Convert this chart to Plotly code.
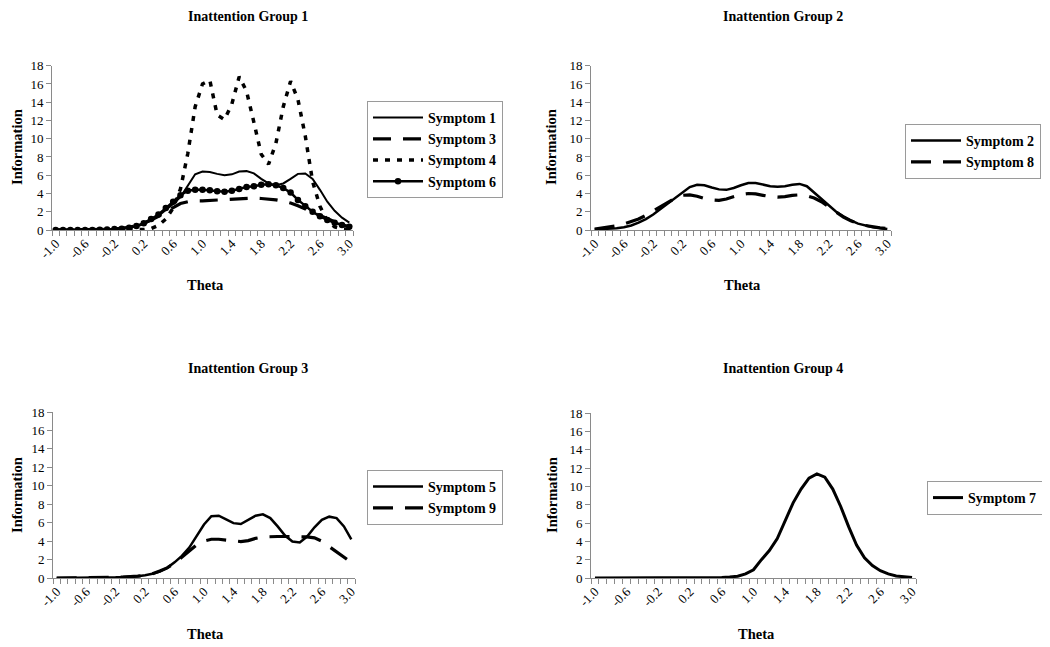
import plotly.graph_objects as go

# The page body has an 8px margin, so the figure is drawn 8px smaller and
# all reference pixel positions are shifted by that offset.
OFF = 8
W, H = 1050 - OFF, 647 - OFF

theta = [-1.0, -0.9, -0.8, -0.7, -0.6, -0.5, -0.4, -0.3, -0.2, -0.1,
         0.0, 0.1, 0.2, 0.3, 0.4, 0.5, 0.6, 0.7, 0.8, 0.9,
         1.0, 1.1, 1.2, 1.3, 1.4, 1.5, 1.6, 1.7, 1.8, 1.9,
         2.0, 2.1, 2.2, 2.3, 2.4, 2.5, 2.6, 2.7, 2.8, 2.9, 3.0]

tick_labels = ["-1.0", "-0.6", "-0.2", "0.2", "0.6", "1.0", "1.4", "1.8", "2.2", "2.6", "3.0"]
tick_positions = [-1.0, -0.6, -0.2, 0.2, 0.6, 1.0, 1.4, 1.8, 2.2, 2.6, 3.0]
y_ticks = [0, 2, 4, 6, 8, 10, 12, 14, 16, 18]

# Inattention Group 1
symptom1 = [0.0, 0.0, 0.0, 0.01, 0.01, 0.02, 0.03, 0.05, 0.08, 0.13,
            0.22, 0.38, 0.65, 1.05, 1.55, 2.15, 2.85, 3.6, 4.9, 6.1,
            6.4, 6.35, 6.15, 6.0, 6.1, 6.4, 6.45, 6.2, 5.6, 5.1,
            4.9, 5.1, 5.6, 6.15, 6.2, 5.6, 4.4, 3.1, 2.1, 1.35, 0.8]
symptom3 = [0.0, 0.0, 0.01, 0.01, 0.02, 0.03, 0.05, 0.08, 0.12, 0.2,
            0.3, 0.5, 0.75, 1.1, 1.5, 2.0, 2.5, 2.9, 3.1, 3.2,
            3.2, 3.25, 3.3, 3.35, 3.4, 3.45, 3.5, 3.5, 3.45, 3.4,
            3.3, 3.15, 2.95, 2.65, 2.3, 1.95, 1.55, 1.2, 0.85, 0.55, 0.35]
symptom4 = [0.0, 0.0, 0.0, 0.0, 0.0, 0.0, 0.0, 0.0, 0.0, 0.0,
            0.0, 0.01, 0.05, 0.15, 0.5, 1.2, 2.4, 4.5, 8.4, 13.5,
            16.0, 16.4, 12.6, 12.1, 13.8, 16.8, 15.2, 11.8, 8.3, 7.2,
            9.5, 13.5, 16.3, 14.3, 10.3, 5.3, 2.6, 1.0, 0.35, 0.12, 0.04]
symptom6 = [0.0, 0.0, 0.0, 0.0, 0.0, 0.01, 0.02, 0.05, 0.1, 0.15,
            0.25, 0.45, 0.75, 1.2, 1.7, 2.4, 3.1, 3.8, 4.3, 4.4,
            4.4, 4.35, 4.25, 4.2, 4.3, 4.5, 4.7, 4.8, 4.95, 5.0,
            4.9, 4.6, 4.1, 3.3, 2.6, 2.0, 1.5, 1.1, 0.8, 0.55, 0.35]

# Inattention Group 2
symptom2 = [0.05, 0.08, 0.12, 0.2, 0.3, 0.5, 0.8, 1.2, 1.7, 2.3,
            2.9, 3.6, 4.2, 4.7, 4.95, 4.9, 4.65, 4.45, 4.4, 4.6,
            4.9, 5.15, 5.15, 4.95, 4.8, 4.75, 4.8, 4.95, 5.05, 4.8,
            4.1, 3.3, 2.6, 2.0, 1.5, 1.05, 0.7, 0.5, 0.3, 0.2, 0.1]
symptom8 = [0.1, 0.2, 0.3, 0.45, 0.65, 0.9, 1.2, 1.6, 2.1, 2.6,
            3.1, 3.5, 3.8, 3.85, 3.7, 3.45, 3.3, 3.25, 3.4, 3.65,
            3.9, 4.0, 3.95, 3.8, 3.65, 3.6, 3.65, 3.8, 3.85, 3.75,
            3.5, 3.1, 2.5, 1.9, 1.4, 1.0, 0.7, 0.5, 0.35, 0.25, 0.15]

# Inattention Group 3
symptom5 = [0.0, 0.0, 0.0, 0.0, 0.01, 0.02, 0.03, 0.05, 0.07, 0.1,
            0.12, 0.2, 0.3, 0.45, 0.7, 1.1, 1.7, 2.4, 3.3, 4.6,
            5.8, 6.7, 6.75, 6.35, 5.95, 5.85, 6.3, 6.75, 6.9, 6.5,
            5.6, 4.6, 3.95, 3.85, 4.5, 5.5, 6.3, 6.65, 6.5, 5.6, 4.2]
symptom9 = [0.0, 0.0, 0.0, 0.0, 0.01, 0.02, 0.03, 0.05, 0.07, 0.1,
            0.13, 0.2, 0.3, 0.45, 0.75, 1.1, 1.6, 2.3, 3.0, 3.6,
            4.0, 4.2, 4.2, 4.1, 4.0, 3.95, 4.05, 4.3, 4.45, 4.5,
            4.5, 4.5, 4.5, 4.5, 4.45, 4.35, 4.0, 3.4, 2.8, 2.2, 1.7]

# Inattention Group 4
symptom7 = [0.0, 0.0, 0.0, 0.0, 0.0, 0.0, 0.0, 0.0, 0.0, 0.0,
            0.0, 0.0, 0.0, 0.0, 0.0, 0.02, 0.05, 0.1, 0.2, 0.45,
            0.9, 2.0, 3.0, 4.3, 6.2, 8.2, 9.7, 10.9, 11.35, 11.0,
            9.7, 7.8, 5.6, 3.6, 2.2, 1.35, 0.8, 0.45, 0.22, 0.1, 0.05]

FONT = "Liberation Serif"
AXIS_COLOR = "#8a8a8a"

fig = go.Figure()

# panel geometry in reference page pixels: (x0, x1, ytop, ybottom)
panels = {
    1: (52, 353, 65.7, 230),
    2: (591, 891, 65.7, 230),
    3: (53, 355, 412, 578),
    4: (591, 916, 413, 578),
}

def px_x(v):
    return (v - OFF) / W

def px_y(v):
    return 1 - (v - OFF) / H

series = [
    (1, "Symptom 1", symptom1, dict(width=2, dash="solid"), None, "legend"),
    (1, "Symptom 3", symptom3, dict(width=3.2, dash="18px,12px"), None, "legend"),
    (1, "Symptom 4", symptom4, dict(width=3.5, dash="5px,7px"), None, "legend"),
    (1, "Symptom 6", symptom6, dict(width=2.5, dash="solid"), dict(symbol="circle", size=6.5, color="black"), "legend"),
    (2, "Symptom 2", symptom2, dict(width=2.5, dash="solid"), None, "legend2"),
    (2, "Symptom 8", symptom8, dict(width=3.2, dash="20px,12px"), None, "legend2"),
    (3, "Symptom 5", symptom5, dict(width=2.5, dash="solid"), None, "legend3"),
    (3, "Symptom 9", symptom9, dict(width=3.2, dash="20px,12px"), None, "legend3"),
    (4, "Symptom 7", symptom7, dict(width=3, dash="solid"), None, "legend4"),
]

for p, name, vals, line, marker, leg in series:
    sfx = "" if p == 1 else str(p)
    fig.add_trace(go.Scatter(
        x=theta, y=vals, name=name,
        mode="lines+markers" if marker else "lines",
        line=dict(color="black", **line),
        marker=marker,
        xaxis="x" + sfx, yaxis="y" + sfx,
        legend=leg,
    ))

minor_vals = [t - 0.05 for t in theta] + [theta[-1] + 0.05]

layout = dict(
    template="none",
    width=W, height=H,
    margin=dict(l=0, r=0, t=0, b=0, autoexpand=False),
    paper_bgcolor="white", plot_bgcolor="white",
    font=dict(family=FONT, color="black", size=13),
    showlegend=True,
)

for p, (x0, x1, yt, yb) in panels.items():
    sfx = "" if p == 1 else str(p)
    layout["xaxis" + sfx] = dict(
        domain=[px_x(x0), px_x(x1)],
        anchor="y" + sfx, automargin=False,
        range=[-1.05, 3.05],
        tickmode="array", tickvals=tick_positions, ticktext=tick_labels,
        tickangle=-45, ticks="", showgrid=False, zeroline=False,
        showline=True, linecolor=AXIS_COLOR, linewidth=1,
        tickfont=dict(family=FONT, size=13, color="black"),
        minor=dict(tickmode="array", tickvals=minor_vals, ticks="outside",
                   ticklen=5, tickcolor=AXIS_COLOR, tickwidth=1, showgrid=False),
    )
    layout["yaxis" + sfx] = dict(
        domain=[px_y(yb), px_y(yt)],
        anchor="x" + sfx, automargin=False,
        range=[0, 18], tickmode="array", tickvals=y_ticks,
        ticks="outside", ticklen=5, tickcolor=AXIS_COLOR,
        showgrid=False, zeroline=False,
        showline=True, linecolor=AXIS_COLOR, linewidth=1,
        tickfont=dict(family=FONT, size=13, color="black"),
    )

legend_common = dict(
    bgcolor="white", bordercolor="#9a9a9a", borderwidth=1,
    font=dict(family=FONT, size=14, color="black", weight="bold"),
    yanchor="top", tracegroupgap=0,
)
layout["legend"] = dict(x=px_x(367), y=px_y(101), xanchor="left", itemwidth=50, **legend_common)
layout["legend2"] = dict(x=px_x(905), y=px_y(124), xanchor="left", itemwidth=50, **legend_common)
layout["legend3"] = dict(x=px_x(367), y=px_y(470), xanchor="left", itemwidth=50, **legend_common)
layout["legend4"] = dict(x=px_x(1043), y=px_y(481), xanchor="right", itemwidth=30, **legend_common)

fig.update_layout(**layout)

titles = [
    ("Inattention Group 1", 248, 17),
    ("Inattention Group 2", 783, 17),
    ("Inattention Group 3", 248, 368),
    ("Inattention Group 4", 783, 368),
]
for text, cx, cy in titles:
    fig.add_annotation(text="<b>" + text + "</b>", x=px_x(cx), y=px_y(cy),
                       xref="paper", yref="paper", showarrow=False,
                       xanchor="center", yanchor="middle",
                       font=dict(family=FONT, size=14, color="black"))

axis_titles = [
    ("Information", 17, 147, -90), ("Theta", 205, 285, 0),
    ("Information", 551, 147, -90), ("Theta", 742, 285, 0),
    ("Information", 17, 495, -90), ("Theta", 205, 634, 0),
    ("Information", 552, 495, -90), ("Theta", 756, 634, 0),
]
for text, cx, cy, ang in axis_titles:
    fig.add_annotation(text="<b>" + text + "</b>", x=px_x(cx), y=px_y(cy),
                       xref="paper", yref="paper", showarrow=False,
                       xanchor="center", yanchor="middle", textangle=ang,
                       font=dict(family=FONT, size=14.5, color="black"))

fig.write_html("out.html")
